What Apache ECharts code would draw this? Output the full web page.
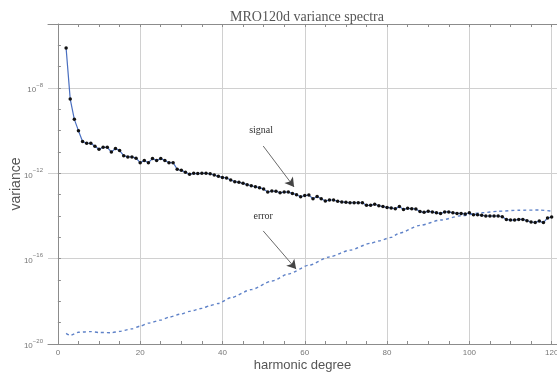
<!DOCTYPE html>
<html>
<head>
<meta charset="utf-8">
<script src="https://cdn.jsdelivr.net/npm/echarts@6/dist/echarts.min.js"></script>
<style>
  html, body { margin: 0; padding: 0; background: #fff; }
  #chart { width: 557px; height: 372px; }
</style>
</head>
<body>
<div id="chart"></div>
<script>
// log10 of the signal variance, degrees 2..120
const signalDegreeStart = 2;
const signalLog = [
  -6.13, -8.52, -9.47, -10.0, -10.51, -10.59, -10.59, -10.73, -10.87, -10.78,
  -10.78, -11.0, -10.84, -10.93, -11.17, -11.23, -11.23, -11.29, -11.5, -11.4,
  -11.5, -11.31, -11.4, -11.31, -11.4, -11.5, -11.5, -11.81, -11.86, -11.95,
  -12.04, -12.0, -12.01, -12.0, -12.0, -12.02, -12.08, -12.14, -12.19, -12.22,
  -12.31, -12.39, -12.42, -12.47, -12.53, -12.58, -12.63, -12.67, -12.74, -12.88,
  -12.83, -12.84, -12.91, -12.88, -12.88, -12.94, -13.0, -13.1, -13.04, -13.02,
  -13.19, -13.09, -13.19, -13.3, -13.25, -13.25, -13.31, -13.34, -13.36, -13.38,
  -13.38, -13.38, -13.38, -13.5, -13.5, -13.45, -13.52, -13.56, -13.6, -13.62,
  -13.66, -13.56, -13.69, -13.64, -13.66, -13.67, -13.79, -13.83, -13.78, -13.81,
  -13.85, -13.88, -13.81, -13.81, -13.85, -13.88, -13.88, -13.91, -13.85, -13.94,
  -13.94, -13.97, -14.0, -14.0, -14.0, -14.0, -14.03, -14.16, -14.19, -14.19,
  -14.16, -14.16, -14.22, -14.28, -14.3, -14.24, -14.31, -14.09, -14.05
];

// error curve: degrees and log10 variance
const errorDegrees = [2, 3, 5, 8, 10, 13, 15, 18, 20, 22, 25, 27, 30, 32, 35, 37, 39, 42,
  47, 52, 56, 61, 66, 71, 76, 78, 81, 83, 88, 93, 98, 103, 107, 112, 117, 120];
const errorLog = [-19.5, -19.6, -19.45, -19.42, -19.46, -19.47, -19.41, -19.29, -19.16,
  -19.02, -18.88, -18.74, -18.59, -18.47, -18.33, -18.2, -18.1, -17.83, -17.45, -17.05,
  -16.72, -16.31, -15.92, -15.6, -15.28, -15.17, -15.0, -14.8, -14.44, -14.19, -13.99,
  -13.85, -13.78, -13.73, -13.72, -13.77];

// axes
const xMin = -2.4, xMax = 121.3;
const xTickValues = [0, 5, 10, 15, 20, 25, 30, 35, 40, 45, 50, 55, 60, 65, 70, 75, 80, 85, 90, 95, 100, 105, 110, 115, 120];
const xLabelValues = [0, 20, 40, 60, 80, 100, 120];
const xGridValues = [20, 40, 60, 80, 100, 120];
const yMin = 1e-20, yMax = 1e-5;
const yTickValues = [1e-20, 1e-19, 1e-18, 1e-17, 1e-16, 1e-15, 1e-14, 1e-13, 1e-12, 1e-11, 1e-10, 1e-9, 1e-8, 1e-7, 1e-6];
const yLabelValues = [1e-20, 1e-16, 1e-12, 1e-8];
const yGridValues = [1e-16, 1e-12, 1e-8];

// annotations: [degree, log10 variance]
const signalText = [49.4, -9.97];
const signalArrow = [[49.9, -10.72], [57.4, -12.64]];
const errorText = [49.9, -14.0];
const errorArrow = [[49.9, -14.7], [57.9, -16.49]];

const pw = (e) => Math.pow(10, e);
const signalData = signalLog.map((v, i) => [signalDegreeStart + i, pw(v)]);
const errorData = errorLog.map((v, i) => [errorDegrees[i], pw(v)]);

const chart = echarts.init(document.getElementById('chart'));

const axisGray = '#8c8c8c';
const sans = 'Liberation Sans, Arial, sans-serif';
const serif = 'Liberation Serif, Times New Roman, serif';

const supLabel = (v) => {
  const e = Math.round(Math.log10(v));
  return '{b|10}{s|' + (e < 0 ? '\u2212' + (-e) : e) + '}';
};

chart.setOption({
  animation: false,
  backgroundColor: '#fff',
  title: {
    text: 'MRO120d variance spectra',
    left: 302, top: 5, textAlign: 'center',
    textStyle: { fontFamily: serif, fontSize: 14, fontWeight: 'normal', color: '#555' }
  },
  grid: { left: 48, right: 0, top: 24, bottom: 28, outerBoundsMode: 'none', containLabel: false },
  xAxis: [
    {
      type: 'value', position: 'bottom', min: xMin, max: xMax,
      name: 'harmonic degree', nameLocation: 'middle', nameGap: 15, nameMoveOverlap: false,
      nameTextStyle: { fontFamily: sans, fontSize: 13, color: '#555', verticalAlign: 'top' },
      axisLine: { lineStyle: { color: axisGray } },
      axisTick: { inside: true, length: 3, customValues: xTickValues, lineStyle: { color: axisGray } },
      axisLabel: { customValues: xLabelValues, color: '#777', fontFamily: sans, fontSize: 8, margin: 5 },
      splitLine: { show: false }
    },
    {
      type: 'value', position: 'top', min: xMin, max: xMax,
      axisLine: { lineStyle: { color: axisGray } },
      axisTick: { inside: true, length: 3, customValues: xTickValues, lineStyle: { color: axisGray } },
      axisLabel: { show: false },
      splitLine: { show: false }
    },
    {
      type: 'value', position: 'bottom', min: xMin, max: xMax,
      axisLine: { show: false },
      axisTick: { show: false, customValues: xGridValues },
      axisLabel: { show: false },
      splitLine: { show: true, lineStyle: { color: '#d0d0d0', width: 1 } }
    }
  ],
  yAxis: [
    {
      type: 'log', logBase: 10, min: yMin, max: yMax,
      name: 'variance', nameLocation: 'middle', nameGap: 25, nameRotate: 90, nameMoveOverlap: false,
      nameTextStyle: { fontFamily: sans, fontSize: 14, color: '#555' },
      axisLine: { show: true, lineStyle: { color: axisGray } },
      axisTick: { show: true, inside: true, length: 3, customValues: yTickValues, lineStyle: { color: axisGray } },
      axisLabel: {
        customValues: yLabelValues, formatter: supLabel, margin: 5,
        rich: {
          b: { fontFamily: sans, fontSize: 8, color: '#777', lineHeight: 12, verticalAlign: 'bottom' },
          s: { fontFamily: sans, fontSize: 6, color: '#777', lineHeight: 7, verticalAlign: 'top' }
        }
      },
      splitLine: { show: false }
    },
    {
      type: 'log', logBase: 10, min: yMin, max: yMax, position: 'left',
      axisLine: { show: false },
      axisTick: { show: false, customValues: yGridValues },
      axisLabel: { show: false },
      splitLine: { show: true, lineStyle: { color: '#d0d0d0', width: 1 } }
    }
  ],
  series: [
    {
      name: 'error', type: 'line', data: errorData, smooth: 0.25, smoothMonotone: 'x',
      showSymbol: false, symbol: 'none',
      lineStyle: { color: '#5f82c8', width: 1.4, type: [3, 3] },
      markLine: {
        silent: true, symbol: ['none', 'arrow'], symbolSize: [8, 9],
        label: { show: false },
        lineStyle: { color: '#444', width: 0.8, type: 'solid' },
        data: [[
          { coord: [errorArrow[0][0], pw(errorArrow[0][1])] },
          { coord: [errorArrow[1][0], pw(errorArrow[1][1])] }
        ]]
      },
      markPoint: {
        silent: true, symbol: 'circle', symbolSize: 0,
        label: { show: true, position: 'inside', formatter: 'error', fontFamily: serif, fontSize: 10, color: '#333' },
        data: [{ coord: [errorText[0], pw(errorText[1])] }]
      }
    },
    {
      name: 'signal', type: 'line', data: signalData,
      symbol: 'circle', symbolSize: 3.5, showSymbol: true,
      itemStyle: { color: '#111' },
      lineStyle: { color: '#4a6fc0', width: 1.2 },
      markLine: {
        silent: true, symbol: ['none', 'arrow'], symbolSize: [8, 9],
        label: { show: false },
        lineStyle: { color: '#444', width: 0.8, type: 'solid' },
        data: [[
          { coord: [signalArrow[0][0], pw(signalArrow[0][1])] },
          { coord: [signalArrow[1][0], pw(signalArrow[1][1])] }
        ]]
      },
      markPoint: {
        silent: true, symbol: 'circle', symbolSize: 0,
        label: { show: true, position: 'inside', formatter: 'signal', fontFamily: serif, fontSize: 10, color: '#333' },
        data: [{ coord: [signalText[0], pw(signalText[1])] }]
      }
    }
  ]
});
</script>
</body>
</html>
